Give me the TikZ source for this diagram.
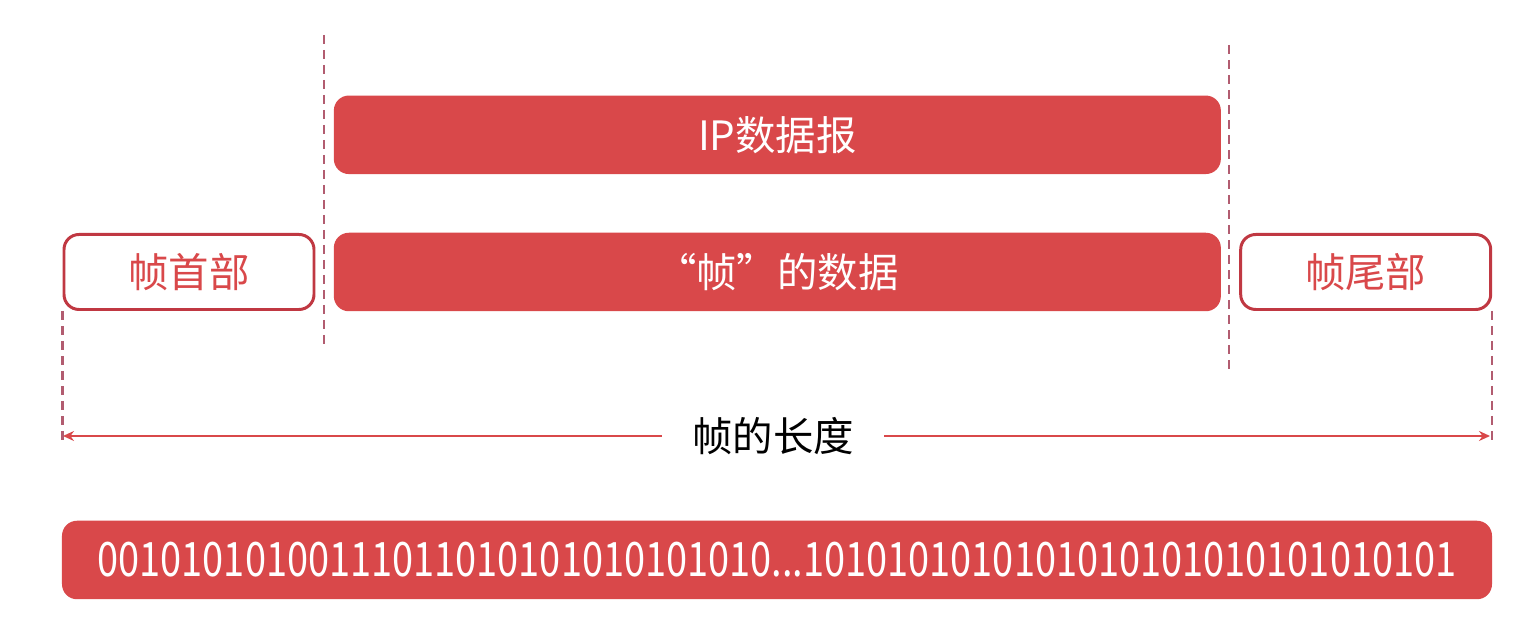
\documentclass[tikz,border=0pt]{standalone}
\usepackage{fontspec}
\setmainfont{Noto Sans CJK SC}
\usepackage{graphicx}
\usetikzlibrary{arrows.meta, positioning}
\definecolor{framered}{RGB}{217, 72, 74}
\definecolor{edgered}{RGB}{192, 56, 66}
\definecolor{dashrose}{RGB}{178, 92, 112}

\begin{document}
\begin{tikzpicture}[
    node distance=0.36cm,
    redbox/.style={fill=framered, rounded corners=0.3cm, minimum height=1.57cm,
                   text=white, inner sep=0pt, font=\fontsize{23}{26}\selectfont},
    linebox/.style={draw=edgered, line width=1.7pt, fill=white, rounded corners=0.3cm,
                    minimum width=5cm, minimum height=1.5cm, inner sep=0pt,
                    text=framered, font=\fontsize{23}{26}\selectfont},
    guide/.style={dashrose, line width=1.4pt, dash pattern=on 0.18cm off 0.12cm},
    arr/.style={-{Stealth[length=2.2mm, width=2mm]}, line width=1pt, framered}
]
    \useasboundingbox (0,0) rectangle (30.5,12.5);

    \node[linebox] (head) at (3.78,7.06) {帧首部};
    \node[redbox, minimum width=17.74cm, right=0.36cm of head] (data) {“帧”的数据};
    \node[linebox, right=0.36cm of data] (tail) {帧尾部};
    \node[redbox, minimum width=17.74cm, above=1.16cm of data] (ip) {IP数据报};

    % frame length
    \node[fill=white, inner xsep=0.6cm, font=\fontsize{23}{26}\selectfont] (len) at (15.46,3.78) {帧的长度};
    \coordinate (lenL) at (1.26,3.78);
    \coordinate (lenR) at (29.8,3.78);
    \draw[arr] (len) -- (lenL);
    \draw[arr] (len) -- (lenR);

    \draw[guide] (head.south west) -- ++(0,-2.6);
    \draw[guide] (tail.south east) -- ++(0,-2.6);
    \draw[guide] (6.48,11.8) -- (6.48,5.6);
    \draw[guide] (24.58,11.6) -- (24.58,5.1);

    \node[redbox, minimum width=28.6cm, font=\fontsize{27}{30}\selectfont] (bits) at (15.54,1.3)
        {\scalebox{0.8}[1]{00101010100111011010101010101010...1010101010101010101010101010101}};
\end{tikzpicture}
\end{document}
